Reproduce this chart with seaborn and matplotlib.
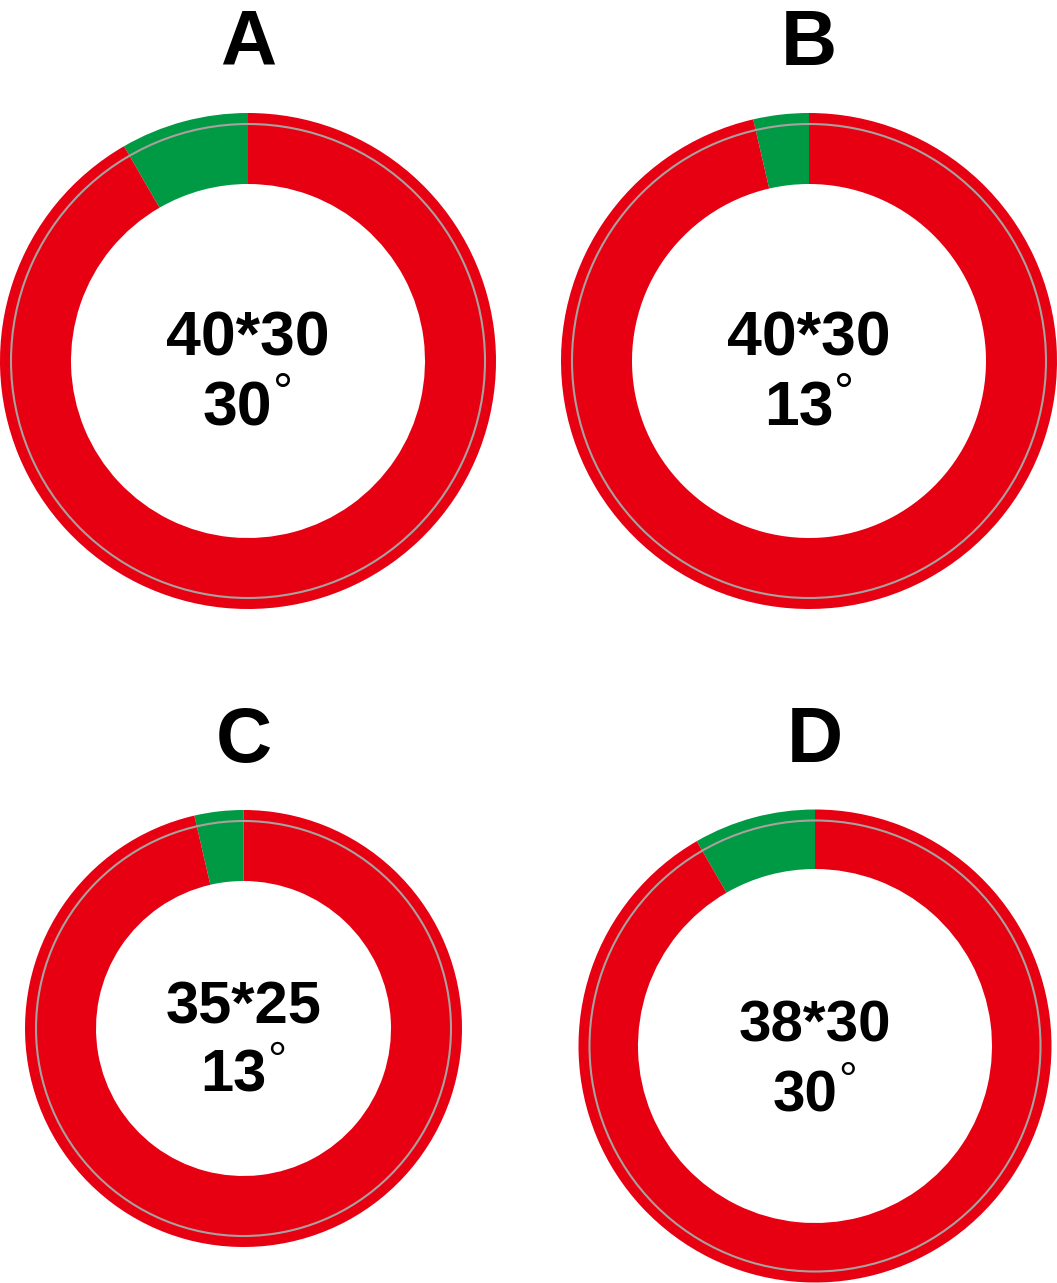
import matplotlib
matplotlib.use("Agg")
import matplotlib.pyplot as plt
from matplotlib.patches import Circle
import seaborn as sns

# chart data
titles = ["A", "B", "C", "D"]
sizes = ["40*30", "40*30", "35*25", "38*30"]
angles = [30, 13, 13, 30]

# layout in output pixels (figure is 1057 x 1283 at dpi 100)
W, H = 1057, 1283
centers_x = [248, 809, 243.5, 815]
centers_y = [361, 361, 1028.5, 1046]
outer_r = [248, 248, 218.5, 236.5]
inner_r = [177, 177, 147.5, 177]
text_pt = [45, 45, 43, 42]
line1_px = [6, 6, 5.5, 4]
line2_px = [-65, -65, -63.5, -66]
title_base = [65, 65, 762, 762]

RED = "#e60012"
GREEN = "#009944"
GRAY = "#a8a29e"

sns.set_theme(style="white")
plt.rcParams["font.family"] = ["Liberation Sans", "DejaVu Sans"]

fig = plt.figure(figsize=(W / 100, H / 100), dpi=100)
renderer = fig.canvas.get_renderer()

for i in range(len(titles)):
    cx, cy, r = centers_x[i], centers_y[i], outer_r[i]
    ax = fig.add_axes([(cx - r) / W, 1 - (cy + r) / H, 2 * r / W, 2 * r / H])
    ax.pie(
        [angles[i], 360 - angles[i]],
        colors=[GREEN, RED],
        startangle=90,
        counterclock=True,
        radius=1,
        wedgeprops=dict(width=1 - inner_r[i] / r, edgecolor="none", linewidth=0),
    )
    ax.add_patch(Circle((0, 0), (r - 11) / r, fill=False, ec=GRAY, lw=1.5))
    ax.set_xlim(-1, 1)
    ax.set_ylim(-1, 1)
    ax.axis("off")

    fs = text_pt[i]
    ax.text(0, line1_px[i] / r, sizes[i], fontsize=fs, fontweight="bold",
            ha="center", va="baseline", color="black")

    # angle with a thin superscript degree ring, centred as a group
    num = ax.text(0, 0, str(angles[i]), fontsize=fs, fontweight="bold",
                  ha="left", va="baseline", color="black")
    deg = ax.text(0, 0, "\u00b0", fontsize=fs * 0.8, fontweight="normal",
                  ha="left", va="top", color="black")
    wb = num.get_window_extent(renderer).width
    wd = deg.get_window_extent(renderer).width
    gap = 1
    total = wb + gap + wd
    x0 = -total / 2
    digit_h = 0.716 * fs * 100 / 72
    num.set_position((x0 / r, line2_px[i] / r))
    deg.set_position(((x0 + wb + gap) / r, (line2_px[i] + digit_h + 9) / r))

    fig.text(cx / W, 1 - title_base[i] / H, titles[i], fontsize=56,
             fontweight="bold", ha="center", va="baseline", color="black")

fig.savefig("out.png", dpi=100)
